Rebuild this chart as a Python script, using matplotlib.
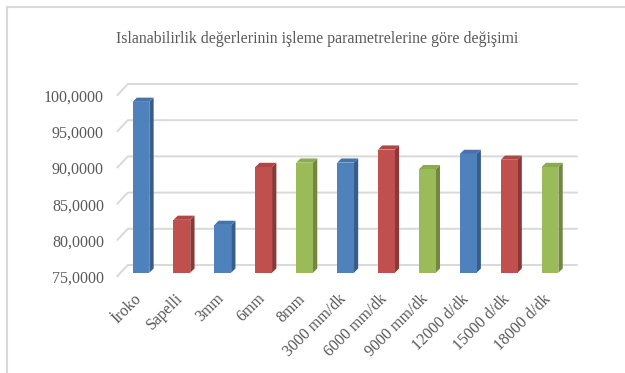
import matplotlib
matplotlib.use("Agg")
import matplotlib.pyplot as plt
from matplotlib.patches import Polygon
from matplotlib.lines import Line2D
import matplotlib.transforms as mtransforms

plt.rcParams['font.family'] = ['Liberation Serif', 'DejaVu Serif']

# ---------------- data ----------------
title = "Islanabilirlik değerlerinin işleme parametrelerine göre değişimi"
categories = ["İroko", "Sapelli", "3mm", "6mm", "8mm", "3000 mm/dk", "6000 mm/dk",
              "9000 mm/dk", "12000 d/dk", "15000 d/dk", "18000 d/dk"]
values = [98.6, 82.3, 81.6, 89.6, 90.2, 90.2, 92.0, 89.3, 91.4, 90.6, 89.6]
groups = ["blue", "red", "blue", "red", "green", "blue", "red", "green", "blue", "red", "green"]
y_ticks = [75, 80, 85, 90, 95, 100]
y_tick_labels = ["75,0000", "80,0000", "85,0000", "90,0000", "95,0000", "100,0000"]

front_col = {"blue": "#4F81BD", "red": "#C0504D", "green": "#9BBB59"}
side_col = {"blue": "#385D8A", "red": "#8C3836", "green": "#71893F"}
top_col = {"blue": "#4773AB", "red": "#AE4846", "green": "#8CAA50"}
text_col = "#595959"
grid_col = "#D9D9D9"

# ---------------- layout (pixels) ----------------
W, H, DPI = 625, 373, 100
fig = plt.figure(figsize=(W / DPI, H / DPI), dpi=DPI)
ax_l, ax_r = 120.5, 570.5
ax_top, ax_bot = 91.7, 272.7  # from top
ax = fig.add_axes([ax_l / W, (H - ax_bot) / H, (ax_r - ax_l) / W, (ax_bot - ax_top) / H])
xmin, xmax = -0.5, len(categories) - 0.5
ymin, ymax = y_ticks[0], y_ticks[-1]
ax.set_xlim(xmin, xmax)
ax.set_ylim(ymin, ymax)
for s in ax.spines.values():
    s.set_visible(False)
ax.patch.set_visible(False)

# data units per pixel
dxp = (xmax - xmin) / (ax_r - ax_l)
dyp = (ymax - ymin) / (ax_bot - ax_top)

# 3D offsets (pixels): back wall, front plane, bar depth
back = (7.3, 7.7)
front = (-3.7, -4.0)
bdep = (4.3, 4.2)

# gridlines: diagonal on side wall + horizontal on back wall
for yv in y_ticks:
    xs = [xmin + front[0] * dxp, xmin + back[0] * dxp, xmax + back[0] * dxp]
    ys = [yv + front[1] * dyp, yv + back[1] * dyp, yv + back[1] * dyp]
    ax.add_line(Line2D(xs, ys, color=grid_col, lw=1.4, clip_on=False, zorder=1,
                       solid_capstyle='butt'))

# bars
bw = 0.41
x = list(range(len(categories)))
bars = ax.bar(x, [v - ymin for v in values], bottom=ymin, width=bw,
              color=[front_col[g] for g in groups], zorder=3, linewidth=0)
for xi, v, g in zip(x, values, groups):
    xl, xr = xi - bw / 2, xi + bw / 2
    ox, oy = bdep[0] * dxp, bdep[1] * dyp
    side = Polygon([(xr, ymin), (xr, v), (xr + ox, v + oy), (xr + ox, ymin + oy)],
                   closed=True, facecolor=side_col[g], edgecolor='none', zorder=2.5,
                   clip_on=False)
    top = Polygon([(xl, v), (xr, v), (xr + ox, v + oy), (xl + ox, v + oy)],
                  closed=True, facecolor=top_col[g], edgecolor='none', zorder=2.6,
                  clip_on=False)
    ax.add_patch(side)
    ax.add_patch(top)

# y tick labels on the front plane
ax.set_yticks(y_ticks)
ax.set_yticklabels(y_tick_labels)
ax.tick_params(axis='y', length=0, pad=11.9, labelsize=11.5, labelcolor=text_col)
yoff = mtransforms.ScaledTranslation(0, front[1] / DPI, fig.dpi_scale_trans)
for lbl in ax.get_yticklabels():
    lbl.set_transform(lbl.get_transform() + yoff)

# x tick labels
ax.set_xticks(x)
ax.set_xticklabels(categories, rotation=45, ha='right', rotation_mode='anchor')
ax.tick_params(axis='x', length=0, pad=13, labelsize=11.5, labelcolor=text_col)
xoff = mtransforms.ScaledTranslation(-7 / DPI, 0, fig.dpi_scale_trans)
for lbl in ax.get_xticklabels():
    lbl.set_transform(lbl.get_transform() + xoff)

# title
fig.text(317.5 / W, 1 - 39 / H, title, ha='center', va='center', fontsize=11.4,
         color=text_col)

# outer frame (top and left edges visible)
fig.add_artist(Line2D([7 / W, 1.0], [1 - 6.7 / H, 1 - 6.7 / H], transform=fig.transFigure,
                      color=grid_col, lw=1.5))
fig.add_artist(Line2D([7 / W, 7 / W], [0, 1 - 6.7 / H], transform=fig.transFigure,
                      color=grid_col, lw=1.5))

fig.savefig("out.png", dpi=DPI)
